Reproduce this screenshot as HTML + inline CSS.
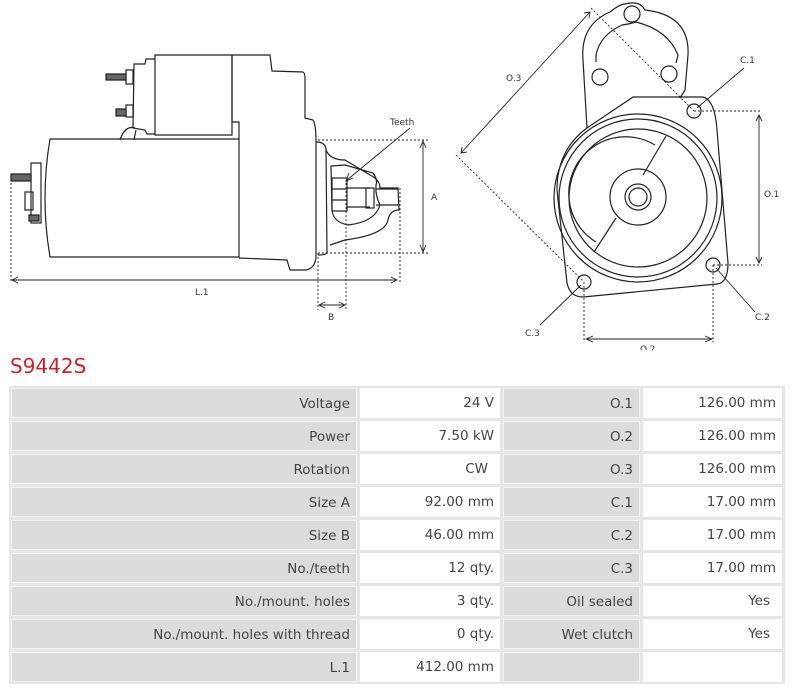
<!DOCTYPE html>
<html><head><meta charset="utf-8"><style>
body{margin:0;width:796px;height:688px;background:#fff;position:relative;overflow:hidden;font-family:"DejaVu Sans","Liberation Sans",sans-serif}
svg{position:absolute;left:0;top:0}
.t{position:absolute;left:9px;top:386px;width:776px;height:298px;background:#e6e6e6}
.c{position:absolute;height:30px;line-height:31px;font-size:13.5px;color:#444;text-align:right;box-sizing:border-box;padding-right:6px}
.g{background:#dcdcdc;border:1px solid #f2f2f2}
.w{background:#fff}
h1{position:absolute;left:10px;top:354px;margin:0;font-weight:normal;font-size:20px;color:#d0202a;font-family:"DejaVu Sans",sans-serif}
</style></head><body>
<svg width="796" height="350" viewBox="0 0 796 350" fill="none" stroke="#222" stroke-width="1.2" font-family="DejaVu Sans,sans-serif" font-size="9">
<!-- left view -->
<path d="M50,139 L239,139 L239,257 L50,257 Q40,198 50,139Z"/>
<path d="M239,139 L239,122 L232,122 L232,55 L270,55 L272,71 L303,72 Q305,73 305,78 L305,118 L313,120 Q316,125 316,140 L316,255 Q316,268 306,270 L290,270 L287,260 L239,258"/>
<path d="M155,55 L232,55 L232,135 L155,135Z"/>
<path d="M155,59 L146,59 L145,64 L134,64 L133,128 L145,130 L147,134 L155,134"/>
<path d="M120,140 Q125,125 135,128 M134,140 L136,130"/>
<rect x="126" y="70" width="7" height="14"/><path d="M106,74 L126,74 L126,80 L106,80Z" fill="#666"/>
<rect x="126" y="105" width="7" height="12"/><path d="M116,109 L126,109 L126,116 L116,116Z" fill="#666"/>
<rect x="31" y="163" width="10" height="60"/>
<rect x="25" y="192" width="8" height="18"/>
<path d="M11,174 L31,174 L31,181 L11,181Z" fill="#666"/>
<path d="M29,215 L39,215 L39,221 L29,221Z" fill="#666"/>
<path d="M316,142 Q326,142 326,150 L327,253 Q325,255 318,255"/>
<path d="M326,150 Q330,160 345,160 L370,175 Q380,180 380,188 L398,188 L399,210 Q390,210 388,220 Q385,235 345,240 L330,245"/>
<path d="M331,166 L345,165 L373,173 Q378,180 376,185 Q375,195 380,205 Q375,222 348,225 Q333,222 332,210Z"/>
<rect x="332" y="178" width="15" height="33"/><path d="M332,189 L347,189 M332,200 L347,200 M347,188 L370,188 M347,207 L370,207 M376,189 L398,189 M376,205 L398,205"/>
<rect x="366" y="188" width="8" height="20"/>
<g stroke-dasharray="2,2" stroke-width="0.9">
<path d="M318,140 L428,140 M318,253 L428,253 M11,183 L11,282 M400,188 L400,282 M318,253 L318,310 M346,183 L346,310"/>
</g>
<g stroke-width="0.9"><path d="M423,143 L423,251 M13,280 L396,280 M320,305 L344,305 M410,128 L347,180"/>
<path d="M420,148 L423,141 L426,148 M420,245 L423,252 L426,245 M18,277 L12,280 L18,283 M391,277 L397,280 L391,283 M325,302 L319,305 L325,308 M339,302 L345,305 L339,308 M349,173 L346,181 L353,178"/></g>
<g fill="#333" stroke="none"><text x="390" y="125">Teeth</text><text x="431" y="200">A</text><text x="195" y="295">L.1</text><text x="328" y="320">B</text>
<text x="506" y="81">O.3</text><text x="740" y="63">C.1</text><text x="764" y="197">O.1</text><text x="755" y="320">C.2</text><text x="525" y="336">C.3</text><text x="640" y="352">O.2</text></g>
<!-- right view -->
<path d="M587,128 L583,60 Q580,25 610,12 Q620,4 625,4 Q640,0 645,10 Q690,15 688,55 L685,90 L680,98"/>
<path d="M596,62 L596,55 Q600,35 622,25 Q630,24 636,22 Q668,30 678,55 L676,63"/>
<circle cx="632" cy="14" r="8"/><circle cx="600" cy="77" r="8"/><circle cx="669" cy="74" r="8"/>
<path d="M587,128 L633,97 L703,97 Q715,100 717,130 L728,263 Q728,283 717,284 L583,297 Q570,297 567,283 L557,190 Q557,150 587,128Z"/>
<circle cx="638" cy="198" r="84"/><circle cx="638" cy="198" r="79"/><circle cx="638" cy="198" r="69"/>
<path d="M655,145 A55,55 0 0 0 596,242"/><path d="M666,136 L643,175 M616,218 L594,252"/>
<circle cx="638" cy="197" r="28"/><circle cx="638" cy="197" r="13"/><circle cx="638" cy="197" r="9"/>
<circle cx="694" cy="111" r="7"/><circle cx="713" cy="265" r="7"/><circle cx="584" cy="282" r="7"/>
<g stroke-dasharray="2,2" stroke-width="0.9"><path d="M591,8 L694,111 M456,155 L584,282 M694,111 L762,111 M713,265 L762,265 M584,282 L584,342 M713,265 L713,342"/></g>
<g stroke-width="0.9"><path d="M590,12 L461,153 M759,116 L759,262 M587,339 L711,339 M744,68 L697,108 M755,312 L716,268 M540,325 L581,285"/>
<path d="M584,13 L590,12 L589,18 M462,147 L461,153 L467,152 M756,121 L759,115 L762,121 M756,257 L759,263 L762,257 M593,336 L586,339 L593,342 M705,336 L712,339 L705,342"/></g>
</svg>
<h1>S9442S</h1>
<div class="t"></div>
<div class="c g" style="left:11px;top:388px;width:346px">Voltage</div><div class="c w" style="left:360px;top:388px;width:140px">24 V</div><div class="c g" style="left:503px;top:388px;width:137px">O.1</div><div class="c w" style="left:643px;top:388px;width:139px">126.00 mm</div>
<div class="c g" style="left:11px;top:421px;width:346px">Power</div><div class="c w" style="left:360px;top:421px;width:140px">7.50 kW</div><div class="c g" style="left:503px;top:421px;width:137px">O.2</div><div class="c w" style="left:643px;top:421px;width:139px">126.00 mm</div>
<div class="c g" style="left:11px;top:454px;width:346px">Rotation</div><div class="c w" style="left:360px;top:454px;width:140px;padding-right:12px">CW</div><div class="c g" style="left:503px;top:454px;width:137px">O.3</div><div class="c w" style="left:643px;top:454px;width:139px">126.00 mm</div>
<div class="c g" style="left:11px;top:487px;width:346px">Size A</div><div class="c w" style="left:360px;top:487px;width:140px">92.00 mm</div><div class="c g" style="left:503px;top:487px;width:137px">C.1</div><div class="c w" style="left:643px;top:487px;width:139px">17.00 mm</div>
<div class="c g" style="left:11px;top:520px;width:346px">Size B</div><div class="c w" style="left:360px;top:520px;width:140px">46.00 mm</div><div class="c g" style="left:503px;top:520px;width:137px">C.2</div><div class="c w" style="left:643px;top:520px;width:139px">17.00 mm</div>
<div class="c g" style="left:11px;top:553px;width:346px">No./teeth</div><div class="c w" style="left:360px;top:553px;width:140px">12 qty.</div><div class="c g" style="left:503px;top:553px;width:137px">C.3</div><div class="c w" style="left:643px;top:553px;width:139px">17.00 mm</div>
<div class="c g" style="left:11px;top:586px;width:346px">No./mount. holes</div><div class="c w" style="left:360px;top:586px;width:140px">3 qty.</div><div class="c g" style="left:503px;top:586px;width:137px">Oil sealed</div><div class="c w" style="left:643px;top:586px;width:139px;padding-right:12px">Yes</div>
<div class="c g" style="left:11px;top:619px;width:346px">No./mount. holes with thread</div><div class="c w" style="left:360px;top:619px;width:140px">0 qty.</div><div class="c g" style="left:503px;top:619px;width:137px">Wet clutch</div><div class="c w" style="left:643px;top:619px;width:139px;padding-right:12px">Yes</div>
<div class="c g" style="left:11px;top:652px;width:346px">L.1</div><div class="c w" style="left:360px;top:652px;width:140px">412.00 mm</div><div class="c g" style="left:503px;top:652px;width:137px"></div><div class="c w" style="left:643px;top:652px;width:139px"></div>
</body></html>
